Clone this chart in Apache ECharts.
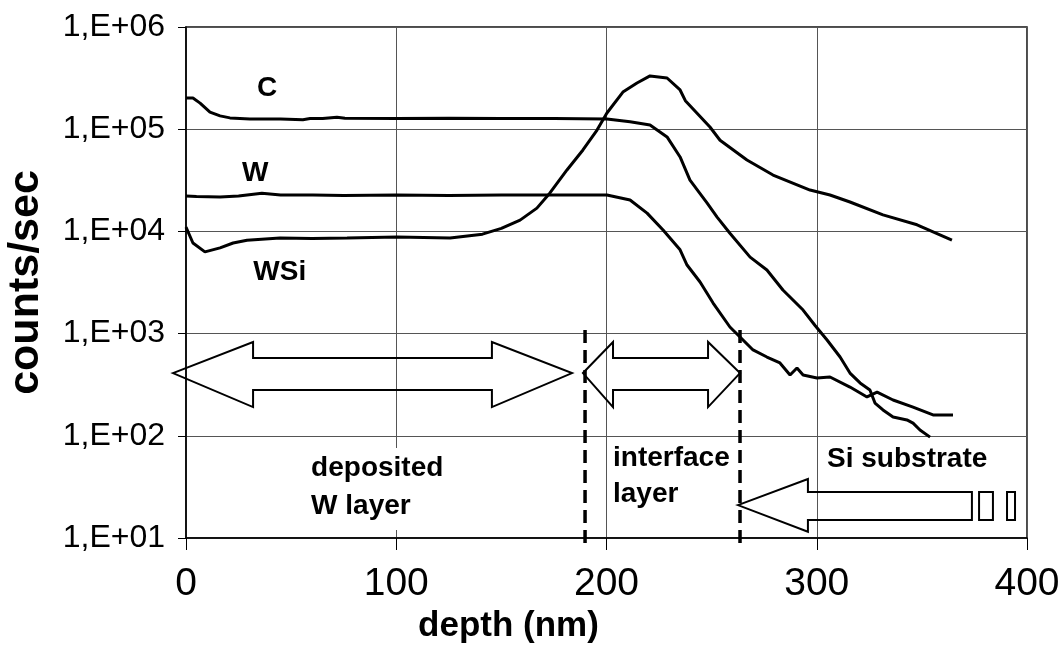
<!DOCTYPE html>
<html>
<head>
<meta charset="utf-8">
<script src="https://cdn.jsdelivr.net/npm/echarts@6/dist/echarts.min.js"></script>
<style>
html,body{margin:0;padding:0;background:#fff;}
#chart{width:1064px;height:657px;}
</style>
</head>
<body>
<div id="chart"></div>
<script>
// ---- data ----
const cDepth  = [0, 3.3, 6.7, 11.4, 16.2, 20.9, 30.4, 45, 55.6, 59, 65, 71.8, 75.6, 100, 125, 150, 175, 200.2, 211.2, 220.7, 228.8, 235.0, 239.7, 247.8, 252.6, 258.7, 268.3, 276.3, 283.9, 293.5, 299.2, 304.9, 311.1, 315.8, 320.6, 325.3, 327.7, 331.5, 336.3, 342.9, 345.8, 349.1, 353.9];
const cCounts = [2.02e5, 2.02e5, 1.8e5, 1.47e5, 1.35e5, 1.29e5, 1.26e5, 1.26e5, 1.24e5, 1.27e5, 1.27e5, 1.31e5, 1.28e5, 1.27e5, 1.28e5, 1.27e5, 1.27e5, 1.26e5, 1.18e5, 1.10e5, 8.4e4, 5.35e4, 3.18e4, 1.9e4, 1.38e4, 9.6e3, 5.6e3, 4.19e3, 2.67e3, 1.70e3, 1.2e3, 866, 590, 411, 329, 281, 209, 179, 153, 143, 133, 114, 97];

const wDepth  = [0, 5, 16.2, 25, 36.1, 45, 60.4, 75, 100, 125, 150, 175, 200.2, 211.2, 219.3, 226.9, 235.0, 238.3, 244.5, 250.7, 258.7, 263.5, 269.7, 276.3, 282.5, 287.3, 290.6, 293.5, 300.1, 306.3, 315.8, 323.9, 328.7, 336.3, 345.8, 355.3, 364.8];
const wCounts = [2.22e4, 2.2e4, 2.17e4, 2.22e4, 2.36e4, 2.27e4, 2.27e4, 2.25e4, 2.27e4, 2.25e4, 2.27e4, 2.27e4, 2.27e4, 2.03e4, 1.51e4, 1.03e4, 6.6e3, 4.69e3, 3.2e3, 1.99e3, 1.16e3, 927, 692, 590, 516, 394, 461, 394, 368, 376, 300, 240, 268, 224, 191, 160, 160];

const wsiDepth  = [0, 3.3, 9.0, 16.2, 22.4, 29, 44.7, 60, 76.6, 100.4, 125.6, 141, 150, 158.9, 166.9, 173.1, 181.2, 188.8, 195.5, 200.2, 207.8, 214.5, 220.7, 228.8, 235.0, 237.5, 249.2, 254.0, 266.8, 279.2, 296.8, 306.3, 315.8, 331.5, 347.7, 364.3];
const wsiCounts = [1.1e4, 7.7e3, 6.3e3, 6.9e3, 7.7e3, 8.2e3, 8.6e3, 8.5e3, 8.6e3, 8.8e3, 8.6e3, 9.4e3, 1.07e4, 1.29e4, 1.69e4, 2.38e4, 3.99e4, 6.26e4, 9.8e4, 1.44e5, 2.31e5, 2.83e5, 3.32e5, 3.17e5, 2.42e5, 1.9e5, 1.05e5, 7.8e4, 5.0e4, 3.56e4, 2.54e4, 2.27e4, 1.94e4, 1.45e4, 1.16e4, 8.2e3];

const yTickLabels = ['1,E+01', '1,E+02', '1,E+03', '1,E+04', '1,E+05', '1,E+06'];
const xTickLabels = ['0', '100', '200', '300', '400'];

// ---- annotations (in data coordinates: depth, counts) ----
const boundaryDepths = [189.8, 263.5];
const boundaryRange = [1085, 8.9];
const dblArrowX = [[-6.2, 31.9, 145.5, 183.6], [188.8, 203.1, 248.3, 263.5]];
const dblArrowY = {mid: 411, headTop: 828, headBot: 191, shaftTop: 577, shaftBot: 281};
const leftArrowX = [262.5, 295.8, 373.8];
const leftArrowY = {mid: 21, headTop: 37.8, headBot: 11.5, shaftTop: 28.2, shaftBot: 15.0};
const stubRects = [[377.2, 383.8], [390.5, 394.3]];
const labels = [
  {text: 'C', at: [33.8, 2.53e5]},
  {text: 'W', at: [26.6, 3.72e4]},
  {text: 'WSi', at: [32, 4.0e3]},
  {text: 'deposited', at: [59.5, 48.4]},
  {text: 'W layer', at: [59.5, 20.6]},
  {text: 'interface', at: [203.1, 60.7]},
  {text: 'layer', at: [203.1, 26.9]},
  {text: 'Si substrate', at: [304.9, 59.3]}
];
const maskBox = [[54.2, 76], [130.3, 12]];

const zip = (xs, ys) => xs.map((x, i) => [x, ys[i]]);
const FONT = '"Liberation Sans", Arial, sans-serif';

const chart = echarts.init(document.getElementById('chart'), null, {renderer: 'canvas'});
const lineStyle = {color: '#000', width: 3};
chart.setOption({
  animation: false,
  backgroundColor: '#fff',
  grid: {left: 186, right: 37, top: 27, bottom: 119, containLabel: false, outerBoundsMode: 'none',
    show: true, borderColor: '#111', borderWidth: 1.5, backgroundColor: 'transparent'},
  xAxis: {
    type: 'value', min: 0, max: 400, interval: 100,
    name: 'depth (nm)', nameLocation: 'middle', nameGap: 66,
    nameTextStyle: {fontFamily: FONT, fontSize: 35, fontWeight: 'bold', color: '#000', padding: [0, 196, 0, 0]},
    axisLine: {lineStyle: {color: '#000', width: 1.5}},
    axisTick: {show: true, length: 12, lineStyle: {color: '#000', width: 1}},
    axisLabel: {fontFamily: FONT, fontSize: 39, color: '#000', margin: 27,
      formatter: v => xTickLabels[Math.round(v / 100)]},
    splitLine: {show: true, lineStyle: {color: '#555', width: 1}}
  },
  yAxis: {
    type: 'log', logBase: 10, min: 10, max: 1e6,
    name: 'counts/sec', nameLocation: 'middle', nameGap: 138,
    nameTextStyle: {fontFamily: FONT, fontSize: 43, fontWeight: 'bold', color: '#000'},
    axisLine: {show: true, lineStyle: {color: '#000', width: 1.5}},
    axisTick: {show: true, length: 8, lineStyle: {color: '#000', width: 1}},
    axisLabel: {fontFamily: FONT, fontSize: 32, color: '#000', margin: 21,
      formatter: v => yTickLabels[Math.round(Math.log10(v)) - 1]},
    splitLine: {show: true, lineStyle: {color: '#555', width: 1}},
    minorTick: {show: false}
  },
  series: [
    {name: 'C', type: 'line', data: zip(cDepth, cCounts), showSymbol: false, symbol: 'none', lineStyle, z: 5},
    {name: 'W', type: 'line', data: zip(wDepth, wCounts), showSymbol: false, symbol: 'none', lineStyle, z: 5},
    {name: 'WSi', type: 'line', data: zip(wsiDepth, wsiCounts), showSymbol: false, symbol: 'none', lineStyle, z: 5}
  ]
});

const px = (d, v) => chart.convertToPixel({xAxisIndex: 0, yAxisIndex: 0}, [d, v]);
const g = [];
// white mask behind "deposited W layer"
{
  const a = px(maskBox[0][0], maskBox[0][1]), b = px(maskBox[1][0], maskBox[1][1]);
  g.push({type: 'rect', shape: {x: a[0], y: a[1], width: b[0] - a[0], height: b[1] - a[1]}, style: {fill: '#fff'}, z: 1, silent: true});
}
// dashed boundaries
boundaryDepths.forEach(d => {
  const a = px(d, boundaryRange[0]), b = px(d, boundaryRange[1]);
  g.push({type: 'line', shape: {x1: a[0], y1: a[1], x2: b[0], y2: b[1]},
    style: {stroke: '#000', lineWidth: 3.5, lineDash: [13, 7]}, z: 20, silent: true});
});
// double arrows
dblArrowX.forEach(xs => {
  const Y = dblArrowY;
  const pts = [
    px(xs[0], Y.mid), px(xs[1], Y.headTop), px(xs[1], Y.shaftTop), px(xs[2], Y.shaftTop),
    px(xs[2], Y.headTop), px(xs[3], Y.mid), px(xs[2], Y.headBot), px(xs[2], Y.shaftBot),
    px(xs[1], Y.shaftBot), px(xs[1], Y.headBot)
  ];
  g.push({type: 'polygon', shape: {points: pts}, style: {fill: 'none', stroke: '#000', lineWidth: 2}, z: 20, silent: true});
});
// left arrow
{
  const xs = leftArrowX, Y = leftArrowY;
  const pts = [
    px(xs[0], Y.mid), px(xs[1], Y.headTop), px(xs[1], Y.shaftTop), px(xs[2], Y.shaftTop),
    px(xs[2], Y.shaftBot), px(xs[1], Y.shaftBot), px(xs[1], Y.headBot)
  ];
  g.push({type: 'polygon', shape: {points: pts}, style: {fill: 'none', stroke: '#000', lineWidth: 2}, z: 20, silent: true});
  stubRects.forEach(r => {
    const a = px(r[0], Y.shaftTop), b = px(r[1], Y.shaftBot);
    g.push({type: 'rect', shape: {x: a[0], y: a[1], width: b[0] - a[0], height: b[1] - a[1]},
      style: {fill: 'none', stroke: '#000', lineWidth: 2}, z: 20, silent: true});
  });
}
// text labels
labels.forEach(l => {
  const p = px(l.at[0], l.at[1]);
  g.push({type: 'text', x: p[0], y: p[1], z: 25, silent: true,
    style: {text: l.text, fill: '#000', fontFamily: FONT, fontSize: 28, fontWeight: 'bold',
      textAlign: 'left', textVerticalAlign: 'middle', verticalAlign: 'middle'}});
});
chart.setOption({graphic: {elements: g}});
</script>
</body>
</html>
